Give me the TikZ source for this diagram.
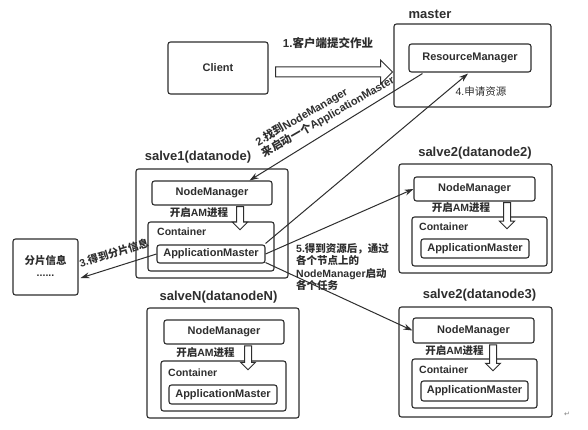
\documentclass[tikz,border=0pt]{standalone}
\usepackage{fontspec}
\setmainfont{Liberation Sans}
\newfontfamily\cjk{Noto Sans CJK SC}
\newfontfamily\symfont{DejaVu Sans}
\newcommand{\zh}[1]{{\cjk #1}}
\usetikzlibrary{positioning}
\usetikzlibrary{arrows.meta}
\usetikzlibrary{shapes.arrows}
\usetikzlibrary{calc}

\begin{document}
\begin{tikzpicture}[x=1pt,y=-1pt]
\definecolor{ink}{HTML}{2E2E2E}
\tikzset{box/.style={rectangle, draw=ink, line width=1.1pt, rounded corners=2.5pt, text=ink, font=\fontsize{11}{12}\selectfont\bfseries, inner sep=0pt}}
\tikzset{title/.style={text=ink, font=\fontsize{13}{15}\selectfont\bfseries, inner sep=0pt}}
\tikzset{note/.style={text=ink, font=\fontsize{10.5}{12.5}\selectfont\bfseries, inner sep=0pt}}
\tikzset{hollow/.style={single arrow, draw=ink, fill=white, line width=1pt, inner sep=3pt, single arrow head extend=4pt, single arrow tip angle=90, minimum height=23pt, rotate=-90}}
\tikzset{link/.style={draw=ink, line width=1pt, -{Stealth[length=9pt,width=6pt]}}}
\useasboundingbox[fill=white] (0,0) rectangle (588,430);

% client and master
\node[box, minimum width=100, minimum height=52] (client) at (218,68) {Client};
\node[box, minimum width=157, minimum height=83] (master) at (472.5,65.5) {};
\node[title] (mastertitle) at (430,14) {master};
\node[box, minimum width=122, minimum height=28] (rm) at (470,58) {ResourceManager};
\node[hollow, rotate=90, inner sep=4.5pt, single arrow head extend=7pt, minimum height=117pt] (submit) at (331.5,72) {};
\node[note, font=\fontsize{11.5}{13}\selectfont\bfseries] (step1) at (328,43) {1.\zh{客户端提交作业}};
\node[note, font=\fontsize{10.5}{12.5}\selectfont] (step4) at (481,92) {4.\zh{申请资源}};

% slave 1
\node[box, minimum width=152, minimum height=109] (slave1) at (212,223.5) {};
\node[title] (slave1title) at (198,157) {salve1(datanode)};
\node[box, minimum width=120, minimum height=24] (nm1) at (212,193) {NodeManager};
\node[box, minimum width=126, minimum height=49] (con1) at (211,246.5) {};
\node[note, anchor=west] (con1title) at (157,232) {Container};
\node[box, minimum width=108, minimum height=18] (am1) at (211,254) {ApplicationMaster};
\node[hollow] (start1) at (240,216.5) {};
\node[note] (start1text) at (199,213) {\zh{开启}AM\zh{进程}};

% split info
\node[box, minimum width=65, minimum height=56] (split) at (45.5,267) {};
\node[note] (splittext) at (45.5,260) {\zh{分片信息}};
\node[note] (splitdots) at (45.5,276) {......};

% slave 2
\node[box, minimum width=153, minimum height=109] (slave2) at (475.5,218.5) {};
\node[title] (slave2title) at (475,153) {salve2(datanode2)};
\node[box, minimum width=121, minimum height=24] (nm2) at (474.5,189) {NodeManager};
\node[box, minimum width=135, minimum height=49] (con2) at (479.5,241.5) {};
\node[note, anchor=west] (con2title) at (419,227) {Container};
\node[box, minimum width=108, minimum height=19] (am2) at (475,248.5) {ApplicationMaster};
\node[hollow, minimum height=26pt] (start2) at (507,214) {};
\node[note] (start2text) at (461,208) {\zh{开启}AM\zh{进程}};

% slave N
\node[box, minimum width=152, minimum height=110] (slaveN) at (223,363) {};
\node[title] (slaveNtitle) at (218.5,297) {salveN(datanodeN)};
\node[box, minimum width=120, minimum height=24] (nmN) at (224,332) {NodeManager};
\node[box, minimum width=125, minimum height=50] (conN) at (223.5,386) {};
\node[note, anchor=west] (conNtitle) at (168,373) {Container};
\node[box, minimum width=108, minimum height=19] (amN) at (223,394.5) {ApplicationMaster};
\node[hollow, minimum height=24pt] (startN) at (248,356) {};
\node[note] (startNtext) at (205.5,353) {\zh{开启}AM\zh{进程}};

% slave 3
\node[box, minimum width=153, minimum height=110] (slave3) at (475.5,362) {};
\node[title] (slave3title) at (479.5,295) {salve2(datanode3)};
\node[box, minimum width=121, minimum height=25] (nm3) at (473.5,330.5) {NodeManager};
\node[box, minimum width=125, minimum height=49] (con3) at (474.5,383.5) {};
\node[note, anchor=west] (con3title) at (419,370) {Container};
\node[box, minimum width=107, minimum height=20] (am3) at (474.5,391) {ApplicationMaster};
\node[hollow, minimum height=26pt] (start3) at (493,356) {};
\node[note] (start3text) at (454.5,351) {\zh{开启}AM\zh{进程}};

% connectors
\draw[link] ($(rm.south west)+(14,1)$) -- ($(nm1.north east)+(-23,0)$);
\node[note, font=\fontsize{11}{13}\selectfont\bfseries, rotate=30, align=left] (step2) at (325,111) {2.\zh{找到}NodeManager\\\zh{来启动一个}ApplicationMaster};
\draw[link] (am1.west) -- ($(split.east)+(2,11)$);
\node[note, rotate=17] (step3) at (114,253) {3.\zh{得到分片信息}};
\draw[link] ($(am1.north east)+(0,-1)$) -- ($(rm.south)+(-2,1)$);
\draw[link] (am1.east) -- (nm2.west);
\draw[link] ($(am1.south east)+(0,-1)$) -- (nm3.west);
\node[note, align=left, anchor=north west] (step5) at (296,243) {5.\zh{得到资源后，通过}\\\zh{各个节点上的}\\NodeManager\zh{启动}\\\zh{各个任务}};

\node[text=gray, font=\symfont\fontsize{7}{8}\selectfont] (mark) at (567,414) {↵};
\end{tikzpicture}
\end{document}
